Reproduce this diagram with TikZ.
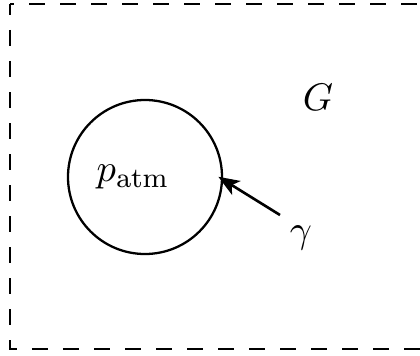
\documentclass[tikz,border=0pt,11pt]{standalone}
\usepackage{amsmath,amssymb}
\usepackage{tikz}
\usetikzlibrary{arrows.meta}

\begin{document}
\begin{tikzpicture}[
    frame/.style={line width=0.7pt, dash pattern=on 0.16cm off 0.15cm},
    bubble/.style={draw, circle, line width=0.65pt, minimum size=1.54cm, inner sep=0pt},
    lbl/.style={inner sep=0pt},
    arr/.style={-{Stealth[length=6pt, width=4.6pt, inset=1.5pt]}, line width=0.75pt},
]
\useasboundingbox (0,0) rectangle (4.2,3.55);
\clip (0,0) rectangle (4.2,3.55);

% domain
\draw[frame, dash phase=0.12cm] (0.10,3.51) -- (4.3,3.51);
\draw[frame, dash phase=0.05cm] (0.10,3.51) -- (0.10,0.06) -- (4.3,0.06);
\node[lbl] (dom) at (3.18,2.58) {$G$};

% bubble
\node[bubble] (bub) at (1.45,1.78) {};
\node[lbl] (patm) at (1.33,1.78) {$p_{\mathrm{atm}}$};

% boundary
\node[lbl] (gam) at (3.01,1.17) {$\gamma$};
\coordinate (gtail) at (2.80,1.40);
\draw[arr, shorten >=-1.6pt] (gtail) -- (bub.-2);

\end{tikzpicture}
\end{document}
